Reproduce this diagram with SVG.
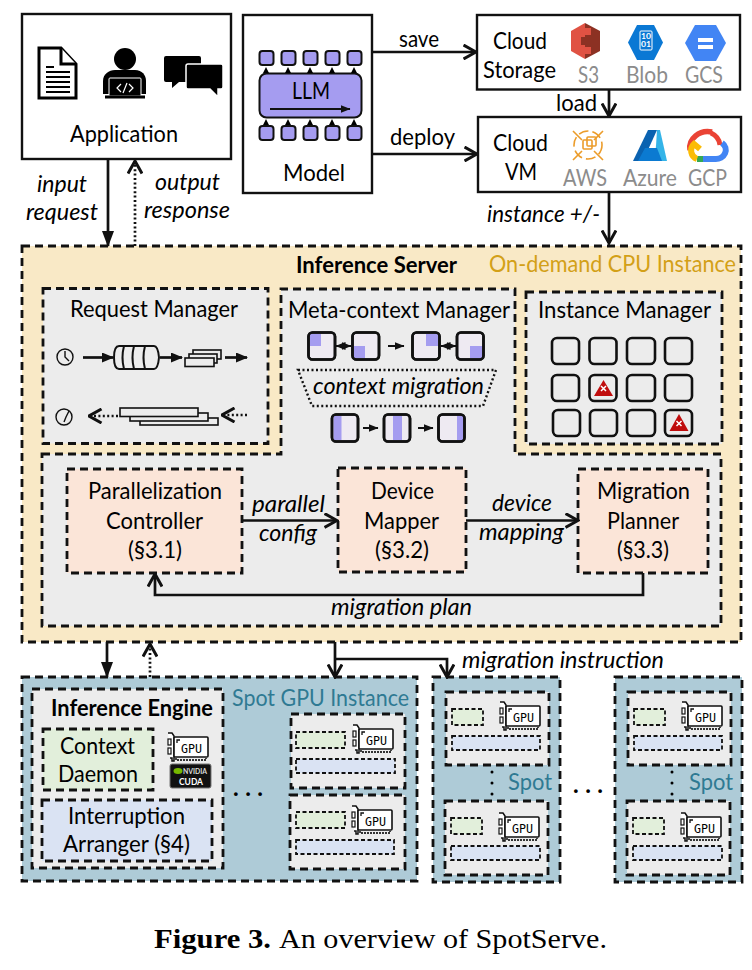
<svg xmlns="http://www.w3.org/2000/svg" xmlns:xlink="http://www.w3.org/1999/xlink" width="752" height="970" viewBox="0 0 752 970">
<style>
text{font-family:"Lato","Carlito","Open Sans",sans-serif;font-size:22.5px;fill:#000}
.i{font-style:italic}
.b{font-weight:bold}
.g{fill:#8c8c8c}
.o{fill:#d3a017}
.t{fill:#2f7a93}
.cap{font-family:"Liberation Serif",serif;font-size:27px}
.box{fill:#fff;stroke:#111;stroke-width:2.4}
.d{stroke:#111;stroke-width:2.8;stroke-dasharray:8 5;fill:none}
.ds{stroke:#111;stroke-width:1.8;stroke-dasharray:4 2.5}
.srv{fill:#f9e9c6}
.spot{fill:#aecbd7}
.panel{fill:#ececec}
.peach{fill:#fbe5d8}
.green{fill:#e2efdb}
.blue{fill:#dae3f3}
.pur{fill:#a59cf0}
.sq{fill:#a59cf0;stroke:#111;stroke-width:2}
.cell{fill:#eeeaf2;stroke:#111;stroke-width:2.6}
.outline{fill:none;stroke:#111;stroke-width:2.6}
.ln{fill:none;stroke:#111;stroke-width:2.7}
.thin{fill:none;stroke:#111;stroke-width:2}
.dot{fill:none;stroke:#111;stroke-width:2.7;stroke-dasharray:2 2.4}
.w{fill:none;stroke:#111;stroke-width:1.4}
</style>
<defs>
<marker id="fa" markerUnits="userSpaceOnUse" viewBox="0 0 16 12" refX="15" refY="6" markerWidth="16" markerHeight="12" orient="auto"><path d="M0 0L16 6L0 12Z" fill="#111"/></marker>
<marker id="fm" markerUnits="userSpaceOnUse" viewBox="0 0 12 10" refX="11" refY="5" markerWidth="12" markerHeight="10" orient="auto"><path d="M0 0L12 5L0 10Z" fill="#111"/></marker>
<marker id="sa" markerUnits="userSpaceOnUse" viewBox="0 0 10 8" refX="9.5" refY="4" markerWidth="10" markerHeight="8" orient="auto-start-reverse"><path d="M0 0L10 4L0 8Z" fill="#111"/></marker>
<marker id="oa" markerUnits="userSpaceOnUse" viewBox="0 0 15 16" refX="13.500" refY="8" markerWidth="15" markerHeight="16" orient="auto"><path d="M1 1L13.500 8L1 15" fill="none" stroke="#111" stroke-width="3"/></marker>
<g id="gpu">
<path d="M0 2h4l2 3v25h-2v-3h-2" fill="#fff" stroke="#111" stroke-width="1.500"/>
<rect x="0" y="8" width="3" height="6" fill="#fff" stroke="#111" stroke-width="1.200"/>
<rect x="0" y="17" width="3" height="6" fill="#fff" stroke="#111" stroke-width="1.200"/>
<rect x="6" y="6" width="34" height="20" rx="1" fill="#fff" stroke="#111" stroke-width="1.600"/>
<path d="M9 12v-3h3" fill="none" stroke="#111" stroke-width="1.300"/>
<path d="M8 27v2h30v-2" fill="none" stroke="#333" stroke-width="1.800" stroke-dasharray="2 1"/>
<text x="13" y="21.500" style="font-family:'DejaVu Sans Mono','Liberation Mono',monospace;font-size:12.500px" textLength="21" lengthAdjust="spacingAndGlyphs">GPU</text>
</g>
</defs>

<g id="application">
<rect class="box" x="22" y="14" width="209" height="145"/>
<path d="M39 48h22l15 16v34H39Z" fill="#fff" stroke="#000" stroke-width="3"/>
<path d="M61 48v16h15" fill="#fff" stroke="#000" stroke-width="3"/>
<path d="M46 67h8M46 72h24M46 77h24M46 82h24M46 87h24M46 92h24" stroke="#000" stroke-width="1.800"/>
<circle cx="125" cy="59" r="11"/>
<path d="M103 94v-13c0-7 6-11 12-11h20c7 0 11 5 11 11v13Z"/>
<rect x="109" y="78" width="32" height="18" rx="1" fill="#000" stroke="#fff" stroke-width="1"/>
<path d="M105 97h40" stroke="#000" stroke-width="3"/>
<path d="M121 84l-4 4 4 4M129 84l4 4-4 4M127 83l-4 10" fill="none" stroke="#fff" stroke-width="1.200"/>
<path d="M166 56h33q2 0 2 2v24h-22l-7 6v-6h-6q-2 0-2-2V58q0-2 2-2Z"/>
<path d="M188 64h33q2 0 2 2v21q0 2-2 2h-3v8l-8-8h-22q-2 0-2-2V66q0-2 2-2Z" stroke="#fff" stroke-width="1.500"/>
<text x="70" y="142" textLength="108" lengthAdjust="spacingAndGlyphs">Application</text>
</g>

<g id="model">
<rect class="box" x="243" y="15" width="129" height="178"/>
<rect class="sq" x="259.500" y="51" width="14" height="14" rx="3"/><rect class="sq" x="281.500" y="51" width="14" height="14" rx="3"/><rect class="sq" x="303.500" y="51" width="14" height="14" rx="3"/><rect class="sq" x="325.500" y="51" width="14" height="14" rx="3"/><rect class="sq" x="347.500" y="51" width="14" height="14" rx="3"/>
<rect class="sq" x="259.500" y="126" width="14" height="14" rx="3"/><rect class="sq" x="281.500" y="126" width="14" height="14" rx="3"/><rect class="sq" x="303.500" y="126" width="14" height="14" rx="3"/><rect class="sq" x="325.500" y="126" width="14" height="14" rx="3"/><rect class="sq" x="347.500" y="126" width="14" height="14" rx="3"/>
<rect class="sq" x="259.500" y="73.500" width="102" height="44" rx="7"/>
<path d="M263 73l3-6 3 6ZM285 73l3-6 3 6ZM307 73l3-6 3 6ZM329 73l3-6 3 6ZM351 73l3-6 3 6Z"/>
<path d="M263 125l3-6 3 6ZM285 125l3-6 3 6ZM307 125l3-6 3 6ZM329 125l3-6 3 6ZM351 125l3-6 3 6Z"/>
<path class="thin" d="M270 109H350" marker-end="url(#sa)"/>
<text x="292" y="99" textLength="38" lengthAdjust="spacingAndGlyphs">LLM</text>
<text x="283" y="181" textLength="62" lengthAdjust="spacingAndGlyphs">Model</text>
</g>

<g id="cloud-storage">
<rect class="box" x="477" y="15" width="263" height="74.500"/>
<text x="493" y="49" textLength="54" lengthAdjust="spacingAndGlyphs">Cloud</text>
<text x="483" y="78" textLength="73" lengthAdjust="spacingAndGlyphs">Storage</text>
<path d="M585 23l15 8v20l-15 8Z" fill="#8c3123"/><path d="M585 23l-14 8v20l14 8Z" fill="#e05243"/>
<path d="M579 28h12v7h-12ZM579 47h12v7h-12Z" fill="#e05243"/><rect x="581" y="37" width="8" height="8" fill="#8c3123"/>
<path d="M637 25h17l9 17.500-9 17.500h-17l-9-17.500Z" fill="#0a78d4"/>
<rect x="640" y="31" width="12" height="19" rx="1" fill="#0a78d4" stroke="#fff" stroke-width="1"/>
<text x="641" y="39" style="font-size:7.500px;font-weight:bold;fill:#fff" textLength="10" lengthAdjust="spacingAndGlyphs">10</text>
<text x="641" y="47" style="font-size:7.500px;font-weight:bold;fill:#fff" textLength="10" lengthAdjust="spacingAndGlyphs">01</text>
<path d="M695 25h21l10 18-10 18h-21l-10-18Z" fill="#4285f4"/>
<path d="M698 38h15v4h-15ZM698 45h15v4h-15Z" fill="#fff"/>
<text class="g" x="578" y="83" textLength="21" lengthAdjust="spacingAndGlyphs">S3</text>
<text class="g" x="626" y="83" textLength="42" lengthAdjust="spacingAndGlyphs">Blob</text>
<text class="g" x="685" y="83" textLength="38" lengthAdjust="spacingAndGlyphs">GCS</text>
</g>

<g id="cloud-vm">
<rect class="box" x="478" y="117" width="263" height="75"/>
<text x="493" y="151" textLength="55" lengthAdjust="spacingAndGlyphs">Cloud</text>
<text x="505" y="180" textLength="32" lengthAdjust="spacingAndGlyphs">VM</text>
<g fill="none" stroke="#ec9c2a" stroke-width="1.600">
<circle cx="588" cy="145" r="14" stroke-dasharray="10 4"/>
<path d="M573 131l9 9M603 131l-9 9M573 160l9-9M603 160l-9-9"/>
<rect x="583" y="140" width="9" height="9" rx="1"/><rect x="587" y="137" width="9" height="9" rx="1"/>
</g>
<path d="M648 130h9l-14 31h-10Z" fill="#0a62b0"/><path d="M657 130h3l7 31h-12Z" fill="#34b4e8"/><path d="M645 148l12 0 5 13h-24Z" fill="#0b7ad1"/>
<path d="M690 150a18 16 0 0 1 22-18" fill="none" stroke="#ea4335" stroke-width="5.500"/>
<path d="M711 133a17 15 0 0 1 9 12" fill="none" stroke="#ea4335" stroke-width="5"/>
<path d="M722 143a10 9 0 0 1-7 16h-12" fill="none" stroke="#4285f4" stroke-width="6"/>
<path d="M703 159h-6" stroke="#34a853" stroke-width="6"/>
<path d="M697 159a9 9 0 0 1-3-15l6 5" fill="none" stroke="#fbbc05" stroke-width="6"/>
<text class="g" x="563" y="186" textLength="44" lengthAdjust="spacingAndGlyphs">AWS</text>
<text class="g" x="623" y="186" textLength="54" lengthAdjust="spacingAndGlyphs">Azure</text>
<text class="g" x="688" y="186" textLength="39" lengthAdjust="spacingAndGlyphs">GCP</text>
</g>

<g id="inference-server">
<rect class="srv" x="22" y="246" width="719" height="396"/>
<rect class="d" x="22" y="246" width="719" height="396"/>
<text class="b" x="296" y="273" textLength="161" lengthAdjust="spacingAndGlyphs">Inference Server</text>
<text class="o" x="489" y="272" textLength="247" lengthAdjust="spacingAndGlyphs">On-demand CPU Instance</text>
</g>

<g id="request-manager">
<rect class="panel" x="43" y="288.500" width="225" height="155"/>
<rect class="d" x="43" y="288.500" width="225" height="155"/>
<text x="70" y="317" textLength="168" lengthAdjust="spacingAndGlyphs">Request Manager</text>
<circle class="w" cx="65" cy="357" r="8"/><path class="w" d="M65 351v6l4 4"/>
<path class="ln" d="M83 357.500H113" marker-end="url(#fm)"/>
<path class="thin" d="M119 346h35q4 0 5 11.500q-1 11.500-5 11.500h-35q-5 0-5-11.500t5-11.500ZM124 346q-3 11.500 0 23M134 346q-3 11.500 0 23M145 346q-3 11.500 0 23"/>
<path class="ln" d="M160 357.500H182" marker-end="url(#fm)"/>
<rect x="193" y="350" width="28" height="9" fill="#ececec" stroke="#111" stroke-width="1.600"/>
<rect x="189" y="354" width="28" height="9" fill="#ececec" stroke="#111" stroke-width="1.600"/>
<rect x="185" y="358" width="29" height="8.500" fill="#ececec" stroke="#111" stroke-width="1.600"/>
<path class="ln" d="M225 357.500H247" marker-end="url(#fm)"/>
<circle class="w" cx="64" cy="417" r="8"/><path class="w" d="M64 422l2-5 3-6"/>
<path class="dot" d="M118 416H89" marker-end="url(#oa)"/>
<rect x="140" y="418" width="78" height="7" fill="#ececec" stroke="#111" stroke-width="1.600"/>
<rect x="130" y="413" width="78" height="8" fill="#ececec" stroke="#111" stroke-width="1.600"/>
<rect x="120" y="408" width="78" height="8.500" fill="#ececec" stroke="#111" stroke-width="1.600"/>
<path class="dot" d="M247 415H222" marker-end="url(#oa)"/>
</g>

<g id="instance-manager">
<rect class="panel" x="526" y="292" width="196" height="152"/>
<rect class="d" x="526" y="292" width="196" height="152"/>
<text x="538" y="318" textLength="173" lengthAdjust="spacingAndGlyphs">Instance Manager</text>
<g class="outline">
<rect x="552" y="338" width="27" height="26" rx="5"/><rect x="589.500" y="338" width="27" height="26" rx="5"/><rect x="627" y="338" width="28" height="26" rx="5"/><rect x="665" y="338" width="27" height="26" rx="5"/>
<rect x="552" y="375" width="27" height="26" rx="5"/><rect x="589.500" y="375" width="27" height="26" rx="5"/><rect x="627" y="375" width="28" height="26" rx="5"/><rect x="665" y="375" width="27" height="26" rx="5"/>
<rect x="553" y="410" width="27" height="26" rx="5"/><rect x="590" y="410" width="27" height="26" rx="5"/><rect x="627" y="410" width="28" height="26" rx="5"/><rect x="665" y="410" width="27" height="26" rx="5"/>
</g>
<path d="M603.500 380L613 396H594Z" fill="#c00d0d"/><path d="M601 386l5 5m0-5l-5 5" stroke="#fff" stroke-width="1.500"/>
<path d="M679 414L688.500 431H669.500Z" fill="#c00d0d"/><path d="M676.500 421l5 5m0-5l-5 5" stroke="#fff" stroke-width="1.500"/>
</g>

<g id="control-panel">
<path class="panel" d="M42 454H281V289H515V454H721V626H42Z"/>
<path class="d" d="M42 454H281V289H515V454H721V626H42Z"/>
</g>

<g id="meta-context-manager">
<text x="288" y="318" textLength="222" lengthAdjust="spacingAndGlyphs">Meta-context Manager</text>
<rect class="cell" x="308.500" y="332.500" width="26.500" height="27" rx="4"/><rect class="pur" x="310" y="334" width="11" height="12"/><rect class="outline" x="308.500" y="332.500" width="26.500" height="27" rx="4"/>
<rect class="cell" x="352.500" y="332.500" width="26.500" height="27" rx="4"/><rect class="pur" x="354" y="346" width="11" height="12"/><rect class="outline" x="352.500" y="332.500" width="26.500" height="27" rx="4"/>
<rect class="cell" x="412.500" y="332.500" width="27" height="27" rx="4"/><rect class="pur" x="426" y="334" width="12" height="12"/><rect class="outline" x="412.500" y="332.500" width="27" height="27" rx="4"/>
<rect class="cell" x="457" y="332.500" width="26.500" height="27" rx="4"/><rect class="pur" x="470" y="346" width="12" height="12"/><rect class="outline" x="457" y="332.500" width="26.500" height="27" rx="4"/>
<path class="thin" d="M336 346H351" marker-start="url(#sa)" marker-end="url(#sa)"/>
<path class="thin" d="M388 346H404" marker-end="url(#sa)"/>
<path class="thin" d="M441 346H456" marker-start="url(#sa)" marker-end="url(#sa)"/>
<path d="M298 370H496L483 406H312Z" fill="none" stroke="#111" stroke-width="2.400" stroke-dasharray="2 2.500"/>
<text class="i" x="313" y="394" textLength="171" lengthAdjust="spacingAndGlyphs">context migration</text>
<rect class="cell" x="332" y="414.500" width="26" height="27" rx="4"/><rect class="pur" x="333.500" y="416" width="8" height="24"/><rect class="outline" x="332" y="414.500" width="26" height="27" rx="4"/>
<rect class="cell" x="384" y="414.500" width="26" height="27" rx="4"/><rect class="pur" x="393" y="416" width="9" height="24"/><rect class="outline" x="384" y="414.500" width="26" height="27" rx="4"/>
<rect class="cell" x="438.500" y="414.500" width="26" height="27" rx="4"/><rect class="pur" x="457" y="416" width="6" height="24"/><rect class="outline" x="438.500" y="414.500" width="26" height="27" rx="4"/>
<path class="thin" d="M363 428H378" marker-end="url(#sa)"/>
<path class="thin" d="M418 428H433" marker-end="url(#sa)"/>
</g>

<g id="parallelization-controller">
<rect class="peach" x="67" y="469" width="175" height="104"/><rect class="d" x="67" y="469" width="175" height="104"/>
<text x="88" y="499" textLength="134" lengthAdjust="spacingAndGlyphs">Parallelization</text>
<text x="106" y="529" textLength="97" lengthAdjust="spacingAndGlyphs">Controller</text>
<text x="128" y="558" textLength="54" lengthAdjust="spacingAndGlyphs">(§3.1)</text>
</g>
<g id="device-mapper">
<rect class="peach" x="338" y="468" width="128" height="104"/><rect class="d" x="338" y="468" width="128" height="104"/>
<text x="371" y="499" textLength="63" lengthAdjust="spacingAndGlyphs">Device</text>
<text x="364" y="529" textLength="75" lengthAdjust="spacingAndGlyphs">Mapper</text>
<text x="375" y="558" textLength="54" lengthAdjust="spacingAndGlyphs">(§3.2)</text>
</g>
<g id="migration-planner">
<rect class="peach" x="578" y="469" width="130" height="104"/><rect class="d" x="578" y="469" width="130" height="104"/>
<text x="597" y="499" textLength="93" lengthAdjust="spacingAndGlyphs">Migration</text>
<text x="607" y="529" textLength="72" lengthAdjust="spacingAndGlyphs">Planner</text>
<text x="617" y="558" textLength="52" lengthAdjust="spacingAndGlyphs">(§3.3)</text>
</g>

<g id="spot-gpu-instance">
<rect class="spot" x="22" y="677" width="395" height="204"/><rect class="d" x="22" y="677" width="395" height="204"/>
<text class="t" x="232" y="706" textLength="177" lengthAdjust="spacingAndGlyphs">Spot GPU Instance</text>
<rect class="panel" x="32" y="689" width="191" height="179"/><rect class="d" x="32" y="689" width="191" height="179"/>
<text class="b" x="51" y="716" textLength="162" lengthAdjust="spacingAndGlyphs">Inference Engine</text>
<rect class="green" x="43" y="729" width="110" height="61"/><rect class="d" x="43" y="729" width="110" height="61"/>
<text x="60" y="754" textLength="75" lengthAdjust="spacingAndGlyphs">Context</text>
<text x="58" y="782" textLength="80" lengthAdjust="spacingAndGlyphs">Daemon</text>
<rect class="blue" x="42" y="800" width="170" height="61"/><rect class="d" x="42" y="800" width="170" height="61"/>
<text x="68" y="824" textLength="117" lengthAdjust="spacingAndGlyphs">Interruption</text>
<text x="63" y="852" textLength="127" lengthAdjust="spacingAndGlyphs">Arranger (§4)</text>
<use href="#gpu" x="168" y="731"/>
<rect x="170" y="764" width="41" height="24" rx="2" fill="#111" stroke="#777" stroke-width="1"/>
<ellipse cx="178" cy="771" rx="4.500" ry="3" fill="#76b900"/>
<text x="183" y="774" style="font-size:7px;font-weight:bold;fill:#ddd" textLength="24" lengthAdjust="spacingAndGlyphs">NVIDIA</text>
<text x="179" y="785" style="font-size:9px;font-weight:bold;fill:#fff" textLength="24" lengthAdjust="spacingAndGlyphs">CUDA</text>
<text x="233" y="796" style="font-size:24px;font-weight:bold" textLength="30" lengthAdjust="spacing">...</text>
<rect class="panel" x="291" y="714" width="114" height="74"/><rect class="d" x="291" y="714" width="114" height="74"/>
<rect class="green ds" x="296" y="732" width="49" height="16"/><rect class="blue ds" x="296" y="759" width="99" height="14"/>
<use href="#gpu" x="353" y="723"/>
<rect class="panel" x="290" y="795" width="115" height="74"/><rect class="d" x="290" y="795" width="115" height="74"/>
<rect class="green ds" x="296" y="812" width="49" height="16"/><rect class="blue ds" x="296" y="840" width="98" height="14"/>
<use href="#gpu" x="352" y="804"/>
</g>

<g id="spot-a">
<rect class="spot" x="433" y="677" width="127" height="205"/><rect class="d" x="433" y="677" width="127" height="205"/>
<rect class="panel" x="446" y="692" width="103" height="73"/><rect class="d" x="446" y="692" width="103" height="73"/>
<rect class="green ds" x="452" y="709" width="31" height="16"/><rect class="blue ds" x="452" y="736" width="88" height="14"/>
<use href="#gpu" x="500" y="700"/>
<rect class="panel" x="445" y="801" width="103" height="74"/><rect class="d" x="445" y="801" width="103" height="74"/>
<rect class="green ds" x="451" y="818" width="31" height="16"/><rect class="blue ds" x="451" y="846" width="89" height="14"/>
<use href="#gpu" x="499" y="811"/>
<circle cx="492" cy="772" r="1.500"/><circle cx="492" cy="783" r="1.500"/><circle cx="492" cy="794" r="1.500"/>
<text class="t" x="508" y="790" textLength="44" lengthAdjust="spacingAndGlyphs">Spot</text>
</g>
<text x="573" y="793" style="font-size:24px;font-weight:bold" textLength="30" lengthAdjust="spacing">...</text>
<g id="spot-b">
<rect class="spot" x="615" y="677" width="127" height="205"/><rect class="d" x="615" y="677" width="127" height="205"/>
<rect class="panel" x="628" y="692" width="103" height="73"/><rect class="d" x="628" y="692" width="103" height="73"/>
<rect class="green ds" x="634" y="709" width="31" height="16"/><rect class="blue ds" x="634" y="736" width="88" height="14"/>
<use href="#gpu" x="682" y="700"/>
<rect class="panel" x="627" y="801" width="103" height="74"/><rect class="d" x="627" y="801" width="103" height="74"/>
<rect class="green ds" x="633" y="818" width="31" height="16"/><rect class="blue ds" x="633" y="846" width="89" height="14"/>
<use href="#gpu" x="681" y="811"/>
<circle cx="672" cy="772" r="1.500"/><circle cx="672" cy="783" r="1.500"/><circle cx="672" cy="794" r="1.500"/>
<text class="t" x="689" y="790" textLength="44" lengthAdjust="spacingAndGlyphs">Spot</text>
</g>

<g id="connectors">
<path class="ln" d="M108 159V246" marker-end="url(#fa)"/>
<path class="dot" d="M135 246V161" marker-end="url(#oa)"/>
<path class="ln" d="M372 52H476" marker-end="url(#oa)"/>
<path class="ln" d="M372 154H477" marker-end="url(#oa)"/>
<path class="ln" d="M609 90V116" marker-end="url(#oa)"/>
<path class="ln" d="M609 193V243" marker-end="url(#oa)"/>
<path class="ln" d="M242 520.500H337" marker-end="url(#oa)"/>
<path class="ln" d="M466 520.500H578" marker-end="url(#oa)"/>
<path class="ln" d="M643 573V595H155V574" marker-end="url(#oa)"/>
<path class="ln" d="M107 642V677" marker-end="url(#fa)"/>
<path class="dot" d="M150 677V644" marker-end="url(#oa)"/>
<path class="ln" d="M335 642V677" marker-end="url(#oa)"/>
<path class="ln" d="M335 659H447V677" marker-end="url(#oa)"/>
<text class="i" x="37" y="192" textLength="50" lengthAdjust="spacingAndGlyphs">input</text>
<text class="i" x="26" y="220" textLength="72" lengthAdjust="spacingAndGlyphs">request</text>
<text class="i" x="155" y="190" textLength="65" lengthAdjust="spacingAndGlyphs">output</text>
<text class="i" x="144" y="218" textLength="86" lengthAdjust="spacingAndGlyphs">response</text>
<text x="399" y="47" textLength="40" lengthAdjust="spacingAndGlyphs">save</text>
<text x="390" y="145" textLength="65" lengthAdjust="spacingAndGlyphs">deploy</text>
<text x="556" y="111" textLength="41" lengthAdjust="spacingAndGlyphs">load</text>
<text class="i" x="487" y="222" textLength="113" lengthAdjust="spacingAndGlyphs">instance +/-</text>
<text class="i" x="252" y="512" textLength="73" lengthAdjust="spacingAndGlyphs">parallel</text>
<text class="i" x="259" y="541" textLength="58" lengthAdjust="spacingAndGlyphs">config</text>
<text class="i" x="492" y="511" textLength="60" lengthAdjust="spacingAndGlyphs">device</text>
<text class="i" x="479" y="540" textLength="85" lengthAdjust="spacingAndGlyphs">mapping</text>
<text class="i" x="331" y="615" textLength="141" lengthAdjust="spacingAndGlyphs">migration plan</text>
<text class="i" x="462" y="668" textLength="202" lengthAdjust="spacingAndGlyphs">migration instruction</text>
</g>

<text class="cap b" x="154" y="948" textLength="117" lengthAdjust="spacingAndGlyphs">Figure 3.</text>
<text class="cap" x="279" y="948" textLength="328" lengthAdjust="spacingAndGlyphs">An overview of SpotServe.</text>
</svg>
